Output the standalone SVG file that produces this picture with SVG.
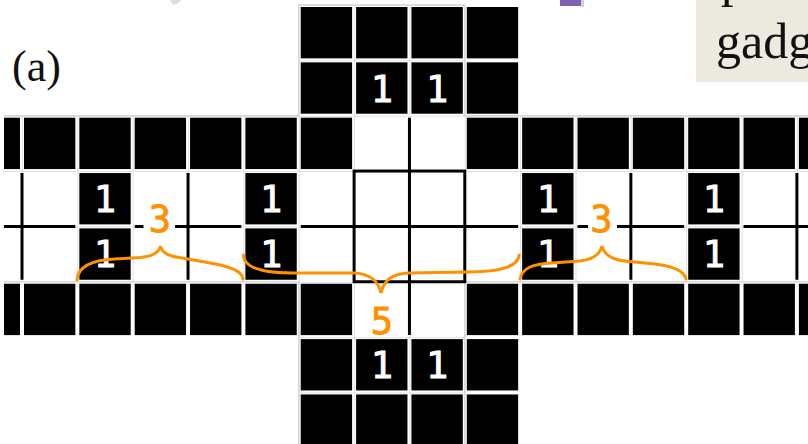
<svg xmlns="http://www.w3.org/2000/svg" xmlns:xlink="http://www.w3.org/1999/xlink" width="808" height="444" viewBox="0 0 808 444">
  <style>
    .num { font-family: "DejaVu Sans Mono", "Liberation Mono", monospace; font-size: 37px; fill: #fff; stroke: #fff; stroke-width: 0.9; text-anchor: middle; }
    .onum { font-family: "DejaVu Sans Mono", "Liberation Mono", monospace; font-size: 37px; fill: #FF9000; stroke: #FF9000; stroke-width: 0.9; text-anchor: middle; }
    .sol { stroke: #000; stroke-width: 3; fill: none; }
    .brace { stroke: #FF9000; stroke-width: 3; fill: none; stroke-linecap: round; }
    .serif { font-family: "Liberation Serif", "Times New Roman", serif; fill: #111; }
  </style>
  <defs>
    <pattern id="grid" patternUnits="userSpaceOnUse" x="22" y="5" width="55.35" height="55.35">
      <rect width="55.35" height="55.35" fill="#fff"/>
      <path d="M0,0 H55.35 M0,0 V55.35" stroke="#d8d8d8" stroke-width="1.6"/>
    </pattern>
    <rect id="b" width="51.35" height="51.35" fill="#000"/>
    <clipPath id="clip"><rect x="4" y="0" width="804" height="444"/></clipPath>
  </defs>

  <rect width="808" height="444" fill="#fff"/>

  <!-- surrounding slide fragments -->
  <g id="slide-bits">
    <path d="M170,0 L181,0 Q178,4 173,5 Z" fill="#c4c4c4" opacity="0.6"/>
    <rect x="560" y="0" width="21" height="6" fill="#7E62AE"/>
    <rect x="581" y="0" width="3" height="7" fill="#d0d0d0"/>
    <rect x="696" y="-10" width="120" height="92" fill="#ECEADF"/>
    <text class="serif" x="721" y="-4" font-size="50">p</text>
    <text class="serif" x="716" y="58" font-size="50">gadg</text>
  </g>

  <text id="label-a" class="serif" x="12" y="81" font-size="44">(a)</text>

  <g id="board" clip-path="url(#clip)">
    <path d="M298.75,5 H464.8 V115.7 H852.25 V281.75 H464.8 V447.8 H298.75 V281.75 H-33.35 V115.7 H298.75 Z" fill="url(#grid)" stroke="#d8d8d8" stroke-width="1.6"/>
    <!-- row 0 -->
    <use href="#b" x="300.75" y="7"/><use href="#b" x="356.1" y="7"/><use href="#b" x="411.45" y="7"/><use href="#b" x="466.8" y="7"/>
    <!-- row 1 -->
    <use href="#b" x="300.75" y="62.35"/><use href="#b" x="356.1" y="62.35"/><use href="#b" x="411.45" y="62.35"/><use href="#b" x="466.8" y="62.35"/>
    <!-- row 2 -->
    <use href="#b" x="-31.35" y="117.7"/><use href="#b" x="24" y="117.7"/><use href="#b" x="79.35" y="117.7"/><use href="#b" x="134.7" y="117.7"/>
    <use href="#b" x="190.05" y="117.7"/><use href="#b" x="245.4" y="117.7"/><use href="#b" x="300.75" y="117.7"/>
    <use href="#b" x="466.8" y="117.7"/><use href="#b" x="522.15" y="117.7"/><use href="#b" x="577.5" y="117.7"/><use href="#b" x="632.85" y="117.7"/>
    <use href="#b" x="688.2" y="117.7"/><use href="#b" x="743.55" y="117.7"/><use href="#b" x="798.9" y="117.7"/>
    <!-- rows 3, 4 -->
    <use href="#b" x="79.35" y="173.05"/><use href="#b" x="245.4" y="173.05"/><use href="#b" x="522.15" y="173.05"/><use href="#b" x="688.2" y="173.05"/>
    <use href="#b" x="79.35" y="228.4"/><use href="#b" x="245.4" y="228.4"/><use href="#b" x="522.15" y="228.4"/><use href="#b" x="688.2" y="228.4"/>
    <!-- row 5 -->
    <use href="#b" x="-31.35" y="283.75"/><use href="#b" x="24" y="283.75"/><use href="#b" x="79.35" y="283.75"/><use href="#b" x="134.7" y="283.75"/>
    <use href="#b" x="190.05" y="283.75"/><use href="#b" x="245.4" y="283.75"/><use href="#b" x="300.75" y="283.75"/>
    <use href="#b" x="466.8" y="283.75"/><use href="#b" x="522.15" y="283.75"/><use href="#b" x="577.5" y="283.75"/><use href="#b" x="632.85" y="283.75"/>
    <use href="#b" x="688.2" y="283.75"/><use href="#b" x="743.55" y="283.75"/><use href="#b" x="798.9" y="283.75"/>
    <!-- row 6 -->
    <use href="#b" x="300.75" y="339.1"/><use href="#b" x="356.1" y="339.1"/><use href="#b" x="411.45" y="339.1"/><use href="#b" x="466.8" y="339.1"/>
    <!-- row 7 -->
    <use href="#b" x="300.75" y="394.45"/><use href="#b" x="356.1" y="394.45"/><use href="#b" x="411.45" y="394.45"/><use href="#b" x="466.8" y="394.45"/>

    <!-- clue numbers -->
    <text class="num" x="381.8" y="101.5">1</text><text class="num" x="437.1" y="101.5">1</text>
    <text class="num" x="105" y="212">1</text><text class="num" x="271.1" y="212">1</text><text class="num" x="547.8" y="212">1</text><text class="num" x="713.9" y="212">1</text>
    <text class="num" x="105" y="267.4">1</text><text class="num" x="271.1" y="267.4">1</text><text class="num" x="547.8" y="267.4">1</text><text class="num" x="713.9" y="267.4">1</text>
    <text class="num" x="381.8" y="378">1</text><text class="num" x="437.1" y="378">1</text>
  </g>

  <g id="connectors" clip-path="url(#clip)">
    <path class="sol" d="M3,226.4 H75.35 M134.7,226.4 H241.4 M300.75,226.4 H518.15 M577.5,226.4 H684.2 M743.55,226.4 H810"/>
    <path class="sol" d="M22,173 V279.8 M188.05,173 V279.8 M630.85,173 V279.8 M796.9,173 V279.8 M409.45,117.7 V335.1"/>
    <rect class="sol" x="354.1" y="171.05" width="110.7" height="110.7"/>
  </g>

  <g id="braces">
    <rect x="143.5" y="221" width="31.5" height="11" fill="#fff"/>
    <rect x="588" y="221" width="29" height="11" fill="#fff"/>
    <path class="brace" d="M77,280 C78,266 92,260 115,259 L140,257.5 C152,256.5 159,253 160.5,246 C162,253 168,256 182,258 L205,262 C228,266 242,270 243,279"/>
    <path class="brace" d="M243.4,255 C244,268 262,273 292,273 L355,273 C370,274 378,280 381,293 C384,280 392,274 408,273 L470,272 C500,271.5 518,267 519.2,255"/>
    <path class="brace" d="M520,279 C522,268 533,264 552,263 L580,261 C593,259.5 600,254 602,246 C604,254 611,259.5 625,261 L655,264 C672,266 684,270 686,279"/>
    <text class="onum" x="160" y="231.5">3</text>
    <text class="onum" x="601.5" y="231.5">3</text>
    <text class="onum" x="382" y="333.5">5</text>
  </g>
</svg>
